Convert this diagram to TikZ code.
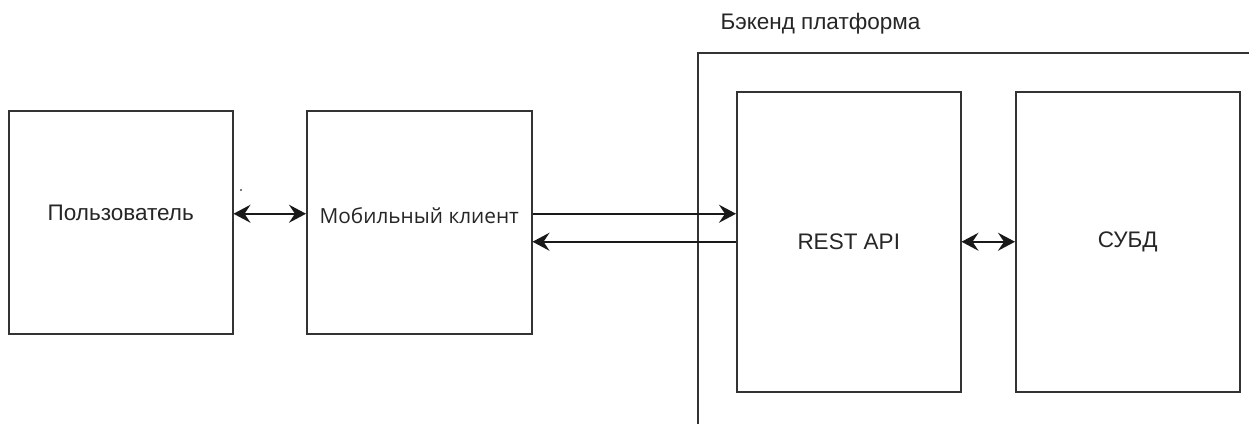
\documentclass[tikz,border=0pt]{standalone}
\usepackage{fontspec}
\setmainfont{Liberation Sans}
\newfontfamily\clientfont{Open Sans}
\usepackage{xcolor}
\usetikzlibrary{arrows.meta}

\begin{document}
\begin{tikzpicture}[x=1pt, y=-1pt,
		block/.style={draw=black!80, line width=1.5pt, inner sep=0pt, anchor=north west},
		label/.style={text=black!85, font=\fontsize{22.5}{27}\selectfont},
		tip/.tip={Stealth[length=17pt, width=18pt, inset=6pt]},
		link/.style={line width=1.7pt, draw=black!90}]
			\useasboundingbox (0,0) rectangle (1249,423);
			
			% Draw the blocks
			\node[block, minimum width=224pt, minimum height=223pt] (user) at (8,110) {};
			\node[block, minimum width=225pt, minimum height=223pt] (mobile) at (306,110) {};
			\node[block, minimum width=224pt, minimum height=300pt] (rest) at (736,91) {};
			\node[block, minimum width=224pt, minimum height=300pt] (dbms) at (1015,91) {};
			
			% Texts inside the blocks
			\node[label] (userlabel) at ([yshift=9pt]user.center) {Пользователь};
			\node[label, font=\clientfont\fontsize{20.8}{25}\selectfont] (mobilelabel) at ([yshift=7pt]mobile.center) {Мобильный клиент};
			\node[label] (restlabel) at (rest.center) {REST API};
			\node[label] (dbmslabel) at (dbms.center) {СУБД};
			
			% Frame of the backend with its title
			\coordinate (frame) at (698,53);
			\draw[line width=1.5pt, draw=black!80] (1260,53) -- (frame) -- (698,430);
			\node[label, anchor=west] (title) at (717,24) {Бэкенд платформа};
			
			% Add connectors
			\coordinate (up) at ([yshift=8.5pt]mobile.east);
			\draw[link, tip-tip] ([yshift=8.5pt]user.east) -- ([yshift=8.5pt]mobile.west);
			\draw[link, -tip] (up) -- (up -| rest.west);
			\draw[link, -tip] (rest.west) -- (rest.west -| mobile.east);
			\draw[link, tip-tip] (rest.east) -- (dbms.west);
			
			% Stray dot
			\fill[black!70] (241,190) circle (1.2pt);
		\end{tikzpicture}
\end{document}
